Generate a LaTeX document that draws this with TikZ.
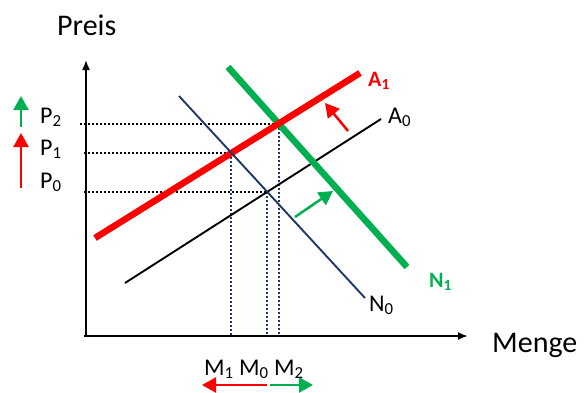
\documentclass[tikz,border=0pt]{standalone}
\usepackage{fontspec}
\setmainfont{Carlito}
\usepackage{tikz}
\usetikzlibrary{arrows.meta, intersections}
\definecolor{MarketRed}  {HTML}{FF0000}
\definecolor{MarketGreen}{HTML}{00B050}
\definecolor{MarketNavy} {HTML}{1F3864}

\begin{document}
\begin{tikzpicture}[
  x=1pt, y=-1pt,
  every node/.style={inner sep=0pt, anchor=base west},
  axislbl/.style={font=\fontsize{30}{36}\selectfont},
  lbl/.style={font=\fontsize{24}{28}\selectfont},
  boldlbl/.style={font=\bfseries\fontsize{22}{26}\selectfont},
  guide/.style={line width=2pt, dash pattern=on 2pt off 2pt},
  shiftarrow/.style={line width=2.5pt, -{Triangle[length=14pt, width=15pt]}},
]
\useasboundingbox (0,0) rectangle (584,392);

% End points of the curves
\coordinate (A1s) at (95,238);  \coordinate (A1e) at (360,73);
\coordinate (A0s) at (125,283); \coordinate (A0e) at (381,119);
\coordinate (N0s) at (179,96);  \coordinate (N0e) at (365,298);
\coordinate (N1s) at (228,67);  \coordinate (N1e) at (407,267);

\path[name path=A1] (A1s) -- (A1e);
\path[name path=A0] (A0s) -- (A0e);
\path[name path=N0] (N0s) -- (N0e);
\path[name path=N1] (N1s) -- (N1e);

% Equilibria
\path[name intersections={of=A0 and N0, by=E0}];
\path[name intersections={of=A1 and N0, by=E1}];
\path[name intersections={of=A1 and N1, by=E2}];

% Guide lines
\draw[guide] (80,0 |- E2) -- (E2);
\draw[guide] (84,0 |- E1) -- (E1);
\draw[guide] (84,0 |- E0) -- (E0);
\foreach \e in {E0, E1, E2}
  \draw[guide, MarketNavy] (\e) -- (\e |- 0,336);

% Axes
\draw[line width=1.6pt, -{Latex[length=10pt, width=8pt]}] (86,337) -- (86,60);
\draw[line width=2.2pt, -{Latex[length=10pt, width=8pt]}] (84,336) -- (468,336);

% Supply and demand
\draw[line width=1.9pt] (A0s) -- (A0e);
\draw[MarketGreen, line width=6.5pt] (N1s) -- (N1e);
\draw[MarketRed, line width=6.5pt] (A1s) -- (A1e);
\draw[MarketNavy, line width=1.9pt] (N0s) -- (N0e);

% Labels
\node[axislbl] (preis) at (57,35)  {Preis};
\node[axislbl] (menge) at (492,352) {Menge};
\node[lbl] (p2) at (40,123) {P\textsubscript{2}};
\node[lbl] (p1) at (40,155) {P\textsubscript{1}};
\node[lbl] (p0) at (40,188) {P\textsubscript{0}};
\node[lbl] (mlbl) at (204,375) {M\textsubscript{1} M\textsubscript{0} M\textsubscript{2}};
\node[lbl] (a0) at (388,123) {A\textsubscript{0}};
\node[lbl] (n0) at (369,311) {N\textsubscript{0}};
\node[boldlbl, MarketRed]   (a1) at (368,86)  {A\textsubscript{1}};
\node[boldlbl, MarketGreen] (n1) at (429,287) {N\textsubscript{1}};

% Shift arrows
\draw[shiftarrow, MarketGreen] (21,127) -- (21,96);
\draw[shiftarrow, MarketRed]   (21,188) -- (21,133);
\draw[shiftarrow, MarketRed]   (267,385) -- (202,385);
\draw[shiftarrow, MarketGreen] (270,385) -- (313,385);
\draw[shiftarrow, MarketRed]   (348,131) -- (325,103);
\draw[shiftarrow, MarketGreen] (295,217) -- (333,191);

\end{tikzpicture}
\end{document}
